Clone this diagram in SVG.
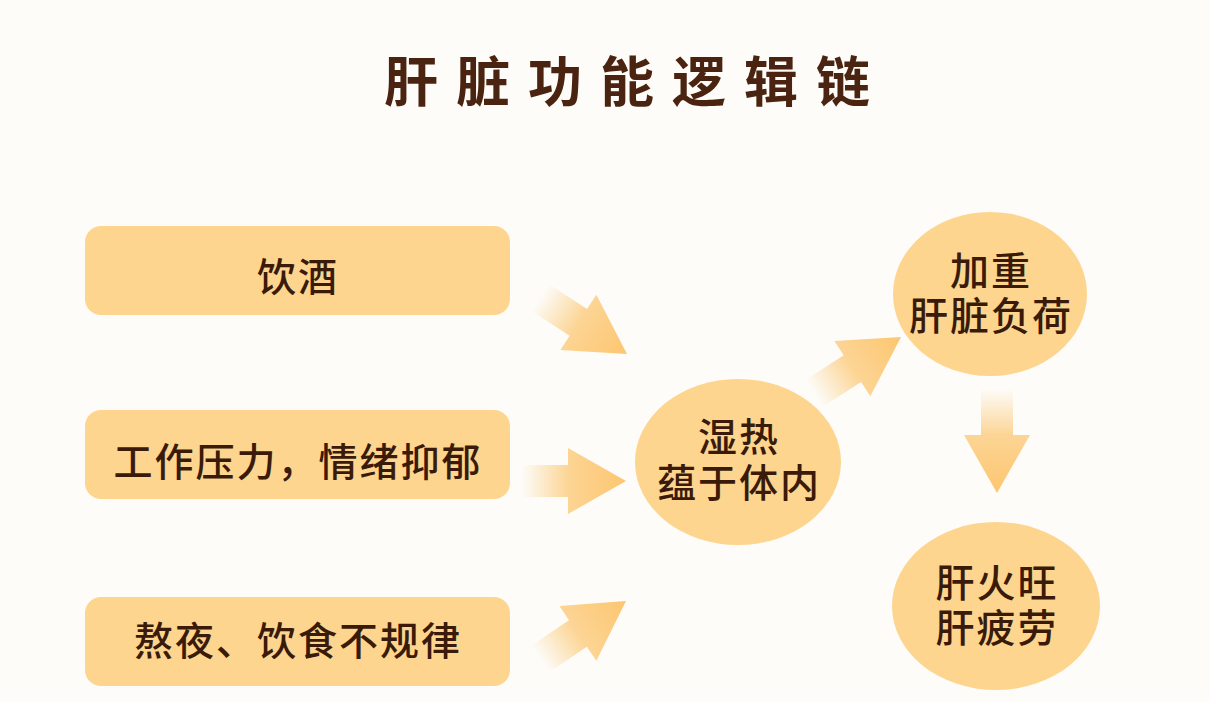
<svg xmlns="http://www.w3.org/2000/svg" width="1210" height="702" viewBox="0 0 1210 702">
<defs>
<linearGradient id="ag" x1="0" y1="0" x2="1" y2="0">
<stop offset="0" stop-color="#fcc772" stop-opacity="0"/>
<stop offset="0.45" stop-color="#fcc772" stop-opacity="0.75"/>
<stop offset="1" stop-color="#fcc670" stop-opacity="1"/>
</linearGradient>
<path id="arr" d="M-104,-16 L-58,-16 L-58,-33 L0,0 L-58,33 L-58,16 L-104,16 Z"/>
</defs>
<style>
.bg{fill:#fdfcf9}
.box{fill:#fdd58e}
.ell{fill:#fdd58e}
.t{font-family:"Noto Sans CJK SC","Noto Sans",sans-serif;font-size:39px;font-weight:500;fill:#3a1a08;text-anchor:middle;letter-spacing:2px}
.title{font-family:"Noto Sans CJK SC","Noto Sans",sans-serif;font-size:54px;font-weight:700;fill:#4a2410;letter-spacing:18px}
.a{fill:url(#ag)}
</style>
<rect class="bg" x="0" y="0" width="1210" height="702"/>
<g id="title"><text class="title" x="384" y="102">肝脏功能逻辑链</text></g>
<g id="connectors">
<use href="#arr" class="a" transform="translate(627,354) rotate(33)"/>
<use href="#arr" class="a" transform="translate(626,481)"/>
<use href="#arr" class="a" transform="translate(626,601) rotate(-34)"/>
<use href="#arr" class="a" transform="translate(901,337) rotate(-33)"/>
<use href="#arr" class="a" transform="translate(997,493) rotate(90)"/>
</g>
<g id="n1"><rect class="box" x="85" y="226" width="425" height="89" rx="16"/><text class="t" x="298" y="291">饮酒</text></g>
<g id="n2"><rect class="box" x="85" y="410" width="425" height="89" rx="16"/><text class="t" x="298" y="476">工作压力，情绪抑郁</text></g>
<g id="n3"><rect class="box" x="85" y="597" width="425" height="89" rx="16"/><text class="t" x="298" y="655">熬夜、饮食不规律</text></g>
<g id="n4"><ellipse class="ell" cx="738" cy="462" rx="103" ry="83"/><text class="t"><tspan x="739" y="451">湿热</tspan><tspan x="739" y="497">蕴于体内</tspan></text></g>
<g id="n5"><ellipse class="ell" cx="990" cy="294" rx="97" ry="82"/><text class="t"><tspan x="991" y="285">加重</tspan><tspan x="991" y="330">肝脏负荷</tspan></text></g>
<g id="n6"><ellipse class="ell" cx="996" cy="606" rx="104" ry="84"/><text class="t"><tspan x="997" y="597">肝火旺</tspan><tspan x="997" y="642">肝疲劳</tspan></text></g>
</svg>
